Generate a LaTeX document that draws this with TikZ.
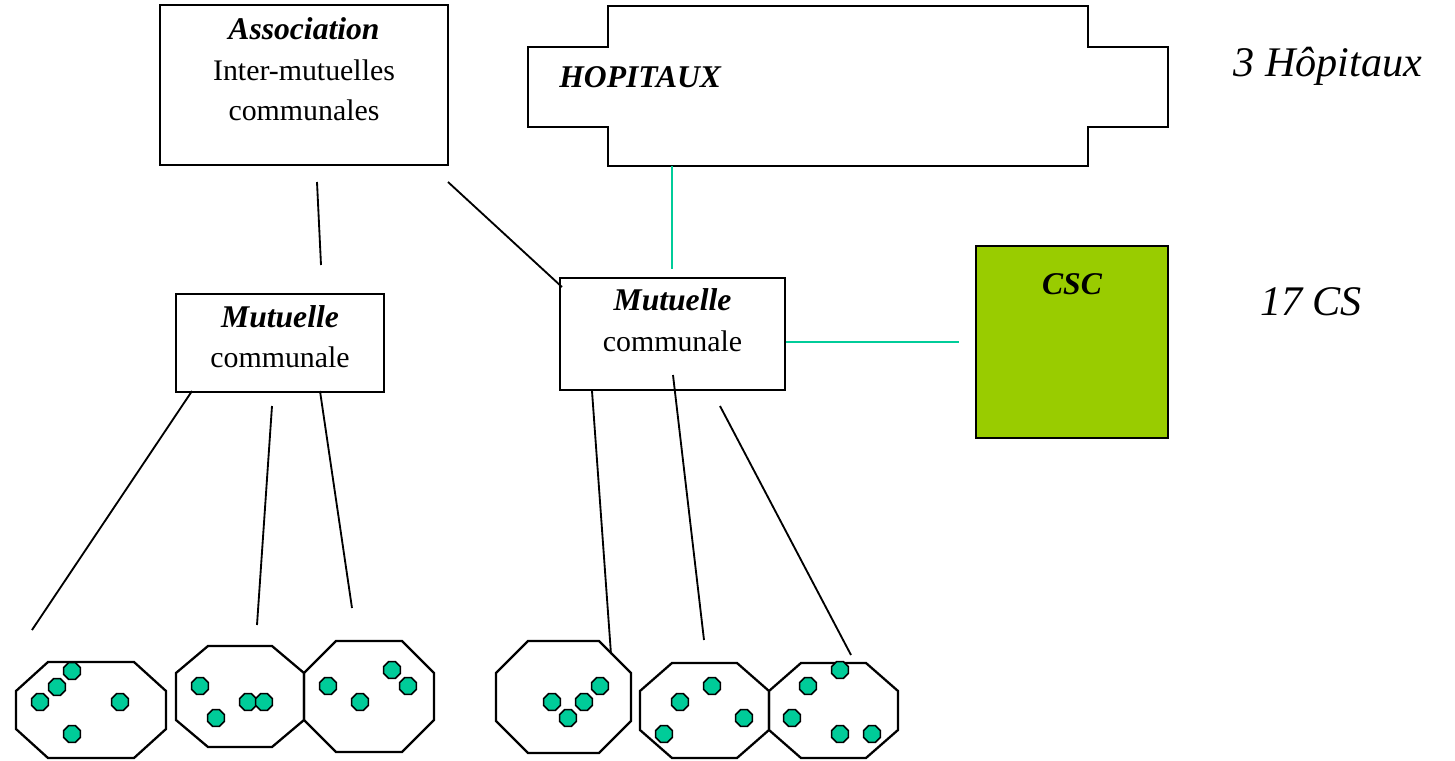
\documentclass[tikz,border=0pt]{standalone}
\usepackage{fontspec}
\setmainfont{Liberation Serif}
\usepackage{tikz}
\usetikzlibrary{shapes.geometric}
\definecolor{McTeal}{HTML}{00CC99}
\definecolor{McGreen}{HTML}{99CC00}
\tikzset{
  mcbox/.style={
    draw,
    fill=white,
    line width=1.3pt,
    align=center,
    inner sep=3pt,
    font=\fontsize{17}{23}\selectfont
  },
  mclink/.style={draw, line width=1.05pt},
  mcteal/.style={draw=McTeal, line width=1.4pt},
  mccell/.style={draw, line width=1.3pt},
  mcdot/.style={
    regular polygon,
    regular polygon sides=8,
    minimum size=3.6mm,
    inner sep=0pt,
    draw,
    line width=0.9pt,
    fill=McTeal
  },
  mcnote/.style={font=\fontsize{24}{28}\selectfont\itshape}
}
\newcommand{\mctitle}[1]{{\bfseries\itshape\fontsize{18}{23}\selectfont #1}}
% octagon: left, top, right, bottom, cut x, cut y
\newcommand{\mcoctagon}[6]{%
  \draw[mccell] ({#1+#5},#2) -- ({#3-#5},#2) -- (#3,{#2+#6}) -- (#3,{#4-#6})
    -- ({#3-#5},#4) -- ({#1+#5},#4) -- (#1,{#4-#6}) -- (#1,{#2+#6}) -- cycle;}

\begin{document}
\begin{tikzpicture}[x=0.02cm, y=-0.02cm]
  \useasboundingbox (0,0) rectangle (1455,761);

  % hospitals
  \draw[mccell] (528,47) -- (608,47) -- (608,6) -- (1088,6) -- (1088,47)
    -- (1168,47) -- (1168,127) -- (1088,127) -- (1088,166) -- (608,166)
    -- (608,127) -- (528,127) -- cycle;
  \node[anchor=west, inner sep=0pt] (hopital) at (559,77) {\mctitle{HOPITAUX}};
  \coordinate (hopbas) at (672,166);

  \node[mcbox, minimum width=5.76cm, minimum height=3.2cm, text depth=18pt] (assoc) at (304,85)
    {\mctitle{Association}\\Inter-mutuelles\\communales};
  \node[mcbox, minimum width=4.16cm, minimum height=1.96cm, text depth=7.5pt] (mut1) at (280,343)
    {\mctitle{Mutuelle}\\communale};
  \node[mcbox, minimum width=4.5cm, minimum height=2.24cm, text depth=16pt] (mut2) at (672.5,334)
    {\mctitle{Mutuelle}\\communale};
  \node[mcbox, fill=McGreen, minimum width=3.84cm, minimum height=3.84cm, text depth=66pt] (csc) at (1072,342)
    {\mctitle{CSC}};

  \node[mcnote] (nbhop) at (1328,66) {3 Hôpitaux};
  \node[mcnote] (nbcs) at (1311,302) {17 CS};

  % teal links
  \draw[mcteal, shorten >=0.16cm] (hopbas) -- (hopbas |- mut2.north);
  \draw[mcteal, shorten >=0.32cm] (mut2.east |- csc.west) -- (csc.west);

  % black links
  \path (317,182) coordinate (l1a) (321,265) coordinate (l1b)
        (448,182) coordinate (l2a) (562,287) coordinate (l2b)
        (192,391) coordinate (l3a) (32,630) coordinate (l3b)
        (272,406) coordinate (l4a) (257,625) coordinate (l4b)
        (320,391) coordinate (l5a) (352,608) coordinate (l5b)
        (592,391) coordinate (l6a) (611,654) coordinate (l6b)
        (673,375) coordinate (l7a) (704,640) coordinate (l7b)
        (720,406) coordinate (l8a) (851,655) coordinate (l8b);
  \foreach \i in {1,...,8}
    \draw[mclink] (l\i a) -- (l\i b);

  % cells
  \mcoctagon{16}{662}{166}{758}{32}{29}
  \mcoctagon{176}{646}{304}{747}{32}{27}
  \mcoctagon{304}{641}{434}{752}{32}{32}
  \mcoctagon{496}{641}{631}{753}{32}{32}
  \mcoctagon{640}{663}{769}{758}{32}{28}
  \mcoctagon{769}{663}{898}{758}{32}{28}

  \foreach \p [count=\i] in {(72,671),(57,687),(40,702),(120,702),(72,734),
      (200,686),(216,718),(248,702),(264,702),
      (328,686),(360,702),(392,670),(408,686),
      (552,702),(568,718),(584,702),(600,686),
      (680,702),(712,686),(744,718),(664,734),
      (840,670),(808,686),(792,718),(840,734),(872,734)}
    \node[mcdot] (dot\i) at \p {};
\end{tikzpicture}
\end{document}
